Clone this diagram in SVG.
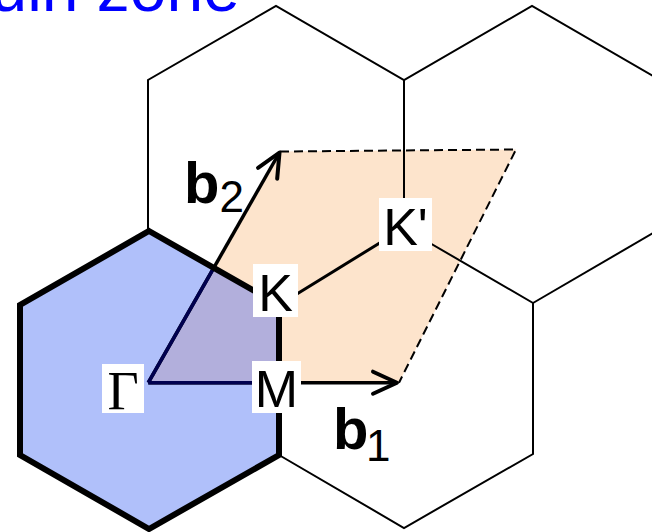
<svg xmlns="http://www.w3.org/2000/svg" width="652" height="532" viewBox="0 0 652 532">
<defs>
<style>
.thin{fill:none;stroke:#000;stroke-width:2;stroke-linejoin:miter}
.kk{fill:none;stroke:#000;stroke-width:3}
.thick{fill:none;stroke:#000;stroke-width:6;stroke-linejoin:miter}
.dash{fill:none;stroke:#000;stroke-width:2;stroke-dasharray:9 5}
.vec{fill:none;stroke:#000;stroke-width:3.5}
.navy{fill:none;stroke:#00004f;stroke-width:3.5}
.box{fill:#fff}
.lbl{font-family:"Liberation Sans",Arial,sans-serif;font-size:52px;fill:#000;text-anchor:middle}
.gam{font-family:"Liberation Serif","Times New Roman",serif;font-size:54px;fill:#000;text-anchor:middle}
.bv{font-family:"Liberation Sans",Arial,sans-serif;font-size:58px;font-weight:bold;fill:#000}
.sub{font-family:"Liberation Sans",Arial,sans-serif;font-size:44px;fill:#000}
</style>
<marker id="arr" markerUnits="userSpaceOnUse" markerWidth="40" markerHeight="40" refX="0" refY="0" orient="auto" overflow="visible">
<path d="M-24,-11 L0,0 L-24,11" fill="none" stroke="#000" stroke-width="4" stroke-linecap="round" stroke-linejoin="round"/>
</marker>
</defs>

<text x="240" y="11" text-anchor="end" fill="#0000ff" font-family="'Liberation Sans',Arial,sans-serif" font-size="66">Brillouin zone</text>

<g id="unit-cell">
<polygon points="148.3,382.7 399,382.7 516,149.5 280,151.5" fill="#fde4cc"/>
</g>

<g id="first-bz-fill">
<polygon points="149,231 279,305 279,455 149,529 20,455 20,305" fill="#b0c0fa"/>
<polygon points="148.3,382.7 213.8,267.8 279,305 279,382.7" fill="#b2afdc"/>
</g>

<g id="neighbour-zones">
<path class="thin" d="M148,231 L148,80 L276,6 L404,80 L532,6 L660,80"/>
<path class="thin" d="M404,80 L404,228 L533,303 L533,454 L404,528 L279,455"/>
<path class="thin" d="M533,303 L660,229"/>
</g>

<g id="connectors">
<path class="dash" d="M280,151.5 L516,149.5 L399,382.7"/>
<path class="kk" d="M279,305 L404,228"/>
<path class="vec" d="M148.3,382.7 L397,382.7" marker-end="url(#arr)"/>
<path class="vec" d="M148.3,382.7 L279.5,152.5" marker-end="url(#arr)"/>
<path class="navy" d="M148.3,382.7 L279,382.7"/>
<path class="navy" d="M148.3,382.7 L213.8,267.8"/>
</g>

<g id="first-bz">
<polygon class="thick" points="149,231 279,305 279,455 149,529 20,455 20,305"/>
</g>

<g id="gamma">
<rect class="box" x="102" y="364" width="42" height="49"/>
<text class="gam" x="123" y="409">Γ</text>
</g>
<g id="K">
<rect class="box" x="253" y="264" width="45" height="53"/>
<text class="lbl" x="275.5" y="311">K</text>
</g>
<g id="Kprime">
<rect class="box" x="379" y="198" width="53" height="53"/>
<text class="lbl" x="405.5" y="244.5">K'</text>
</g>
<g id="M">
<rect class="box" x="252" y="361" width="49" height="52"/>
<text class="lbl" x="276.5" y="406.5">M</text>
</g>

<g id="b1">
<text class="bv" x="333" y="449">b</text>
<text class="sub" x="366" y="461">1</text>
</g>
<g id="b2">
<text class="bv" x="184" y="203">b</text>
<text class="sub" x="219.5" y="212">2</text>
</g>
</svg>
